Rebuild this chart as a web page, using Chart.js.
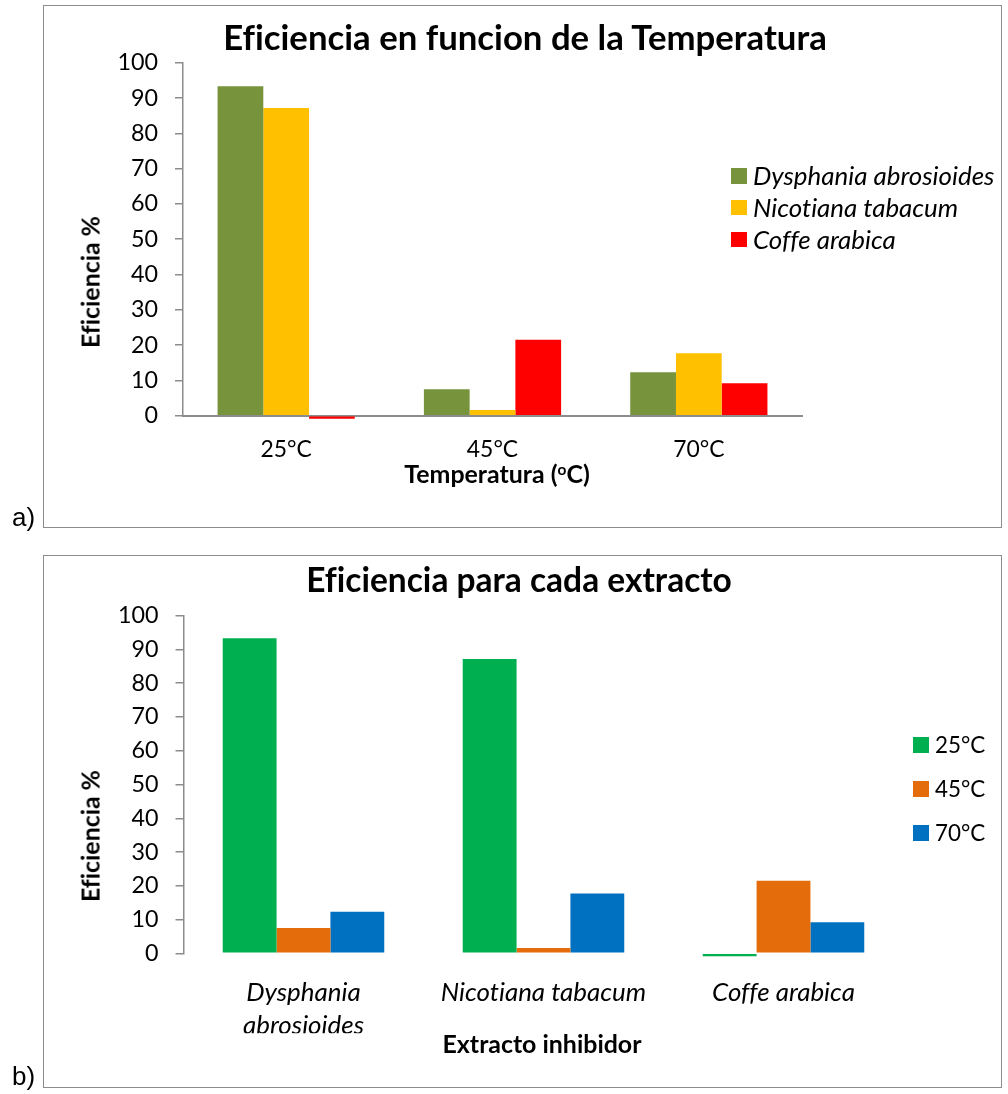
<!DOCTYPE html>
<html>
<head>
<meta charset="utf-8">
<script src="https://cdn.jsdelivr.net/npm/chart.js@4.4.1/dist/chart.umd.min.js"></script>
<style>
  html, body { margin: 0; padding: 0; background: #fff; }
  body { width: 1008px; height: 1094px; position: relative; overflow: hidden; color: #000; font-family: Lato, "Open Sans", sans-serif; font-variant-ligatures: none; }
  .frame { position: absolute; border: 1.5px solid #8c8c8c; box-sizing: border-box; }
  canvas { position: absolute; left: 0; }
  .t { position: absolute; white-space: nowrap; line-height: 1; }
  .c { transform: translate(-50%, -50%); }
  .l { transform: translateY(-50%); }
  .rot { transform: translate(-50%, -50%) rotate(-90deg); }
  .sw { position: absolute; }
  .panel { position: absolute; left: 12px; font-family: "Liberation Sans", Arial, sans-serif; font-size: 26px; line-height: 1; }
</style>
</head>
<body>
<div class="frame" style="left:43px; top:5px; width:959px; height:523px;"></div>
<div class="frame" style="left:43px; top:555px; width:959px; height:533px;"></div>
<canvas id="chartTemp" width="1008" height="530" style="top:0"></canvas>
<canvas id="chartExtract" width="1008" height="564" style="top:530px"></canvas>
<div class="panel" style="top:504px">a)</div>
<div class="panel" style="top:1063px">b)</div>

<script>
// ---- data ----
const temperatures = ['25°C', '45°C', '70°C'];
const extracts = ['Dysphania abrosioides', 'Nicotiana tabacum', 'Coffe arabica'];
const extractTickLabels = [['Dysphania', 'abrosioides'], 'Nicotiana tabacum', 'Coffe arabica'];
const yTicks = [0, 10, 20, 30, 40, 50, 60, 70, 80, 90, 100];

// inhibition efficiency (%) of each extract at 25, 45 and 70 °C
const dysphaniaEff = [93.3, 7.5, 12.3];
const nicotianaEff = [87.2, 1.6, 17.7];
const coffeEff = [-0.85, 21.5, 9.2];

const titleTemp = 'Eficiencia en funcion de la Temperatura';
const titleExtract = 'Eficiencia para cada extracto';
const yTitle = 'Eficiencia %';
const xTitleTemp = 'Temperatura (';
const xTitleExtract = 'Extracto inhibidor';

const extractColors = ['#77933C', '#FFC000', '#FF0000'];
const tempColors = ['#00B050', '#E46C0A', '#0070C0'];

// ---- text sizing ----
const FAMILY = 'Lato';
const meas = document.createElement('canvas').getContext('2d');
function inkWidth(text, style, weight) {
  meas.font = `${style} ${weight} 100px ${FAMILY}`;
  const m = meas.measureText(text);
  return (m.actualBoundingBoxLeft + m.actualBoundingBoxRight) / 100;
}
function sizeFor(text, style, weight, px) { return px / inkWidth(text, style, weight); }

const titleTempSize = sizeFor(titleTemp, 'normal', 'bold', 600);
const titleSize = sizeFor(titleExtract, 'normal', 'bold', 422);
const axisTitleSize = sizeFor(xTitleExtract, 'normal', 'bold', 197);
const yTitleSize = sizeFor(yTitle, 'normal', 'bold', 129);
const legendItalicSize = sizeFor('Dysphania abrosioides', 'italic', 'normal', 240);
const catItalicSize = sizeFor('Nicotiana tabacum', 'italic', 'normal', 203);
const tempTickSize = sizeFor('25°C', 'normal', 'normal', 50);
const yTickSize = sizeFor('100', 'normal', 'normal', 38);
const legendTempSize = sizeFor('25°C', 'normal', 'normal', 49);

// ---- html captions ----
function addText(html, x, y, cls, css) {
  const d = document.createElement('div');
  d.className = 't ' + cls;
  d.innerHTML = html;
  d.style.left = x + 'px';
  d.style.top = y + 'px';
  Object.assign(d.style, css);
  document.body.appendChild(d);
  return d;
}
const boldCss = s => ({ fontWeight: '700', fontSize: s + 'px' });

addText(titleTemp, 525, 37, 'c', boldCss(titleTempSize));
addText(titleExtract, 519, 580, 'c', boldCss(titleSize));
addText(yTitle, 89.5, 282, 'rot', boldCss(yTitleSize));
addText(yTitle, 89.5, 836, 'rot', boldCss(yTitleSize));
addText(xTitleTemp + '<span style="font-size:0.62em;vertical-align:0.5em">o</span>C)', 497, 473, 'c', boldCss(axisTitleSize));
addText(xTitleExtract, 542, 1043, 'c', boldCss(axisTitleSize));

function addLegend(labels, colors, x, ys, sq, gap, css) {
  labels.forEach((lab, i) => {
    const s = document.createElement('div');
    s.className = 'sw';
    Object.assign(s.style, { left: x + 'px', top: (ys[i] - sq / 2) + 'px', width: sq + 'px', height: sq + 'px', background: colors[i] });
    document.body.appendChild(s);
    addText(lab, x + sq + gap, ys[i], 'l', css);
  });
}
addLegend(extracts, extractColors, 731, [176, 207.5, 239.5], 15.5, 6.5,
  { fontStyle: 'italic', fontSize: legendItalicSize + 'px' });
addLegend(temperatures, tempColors, 913, [745, 789, 833], 16, 6,
  { fontSize: legendTempSize + 'px' });

// ---- charts ----
const AXIS = '#8c8c8c';
function yScale(width) {
  return {
    min: 0, max: 100,
    afterBuildTicks: s => { s.ticks = yTicks.map(v => ({ value: v })); },
    ticks: { color: '#000', padding: 17, font: { family: FAMILY, size: yTickSize } },
    grid: { drawOnChartArea: false, drawTicks: true, tickLength: 8, color: AXIS, lineWidth: 1.5 },
    border: { display: true, color: AXIS, width: 1.5 },
    afterFit: s => { s.width = width; }
  };
}

new Chart(document.getElementById('chartTemp'), {
  type: 'bar',
  data: {
    labels: temperatures,
    datasets: [dysphaniaEff, nicotianaEff, coffeEff].map((d, i) => ({
      label: extracts[i], data: d, backgroundColor: extractColors[i]
    }))
  },
  options: {
    responsive: false, animation: false, events: [],
    layout: { padding: { left: 0, right: 206, top: 62.7, bottom: 54.3 } },
    datasets: { bar: { categoryPercentage: 0.665, barPercentage: 1, clip: false, borderWidth: 0 } },
    plugins: { legend: { display: false }, title: { display: false }, tooltip: { enabled: false } },
    scales: {
      x: {
        grid: { display: false, drawTicks: false },
        border: { display: true, color: AXIS, width: 2 },
        ticks: { color: '#000', padding: 20.5, font: { family: FAMILY, size: tempTickSize } },
        afterFit: s => { s.height = 60; }
      },
      y: yScale(183)
    }
  }
});

new Chart(document.getElementById('chartExtract'), {
  type: 'bar',
  data: {
    labels: extractTickLabels,
    datasets: temperatures.map((t, i) => ({
      label: t,
      data: [dysphaniaEff[i], nicotianaEff[i], coffeEff[i]],
      backgroundColor: tempColors[i]
    }))
  },
  options: {
    responsive: false, animation: false, events: [],
    layout: { padding: { left: 0, right: 104.5, top: 85.7, bottom: 60.7 } },
    datasets: { bar: { categoryPercentage: 0.673, barPercentage: 1, clip: false, borderWidth: 0 } },
    plugins: { legend: { display: false }, title: { display: false }, tooltip: { enabled: false } },
    scales: {
      x: {
        grid: { display: false, drawTicks: false },
        border: { display: false },
        ticks: { color: '#000', padding: 22, font: { family: FAMILY, size: catItalicSize, style: 'italic', lineHeight: 1.3 } },
        afterFit: s => { s.height = 80; }
      },
      y: yScale(183.5)
    }
  }
});
</script>
</body>
</html>
